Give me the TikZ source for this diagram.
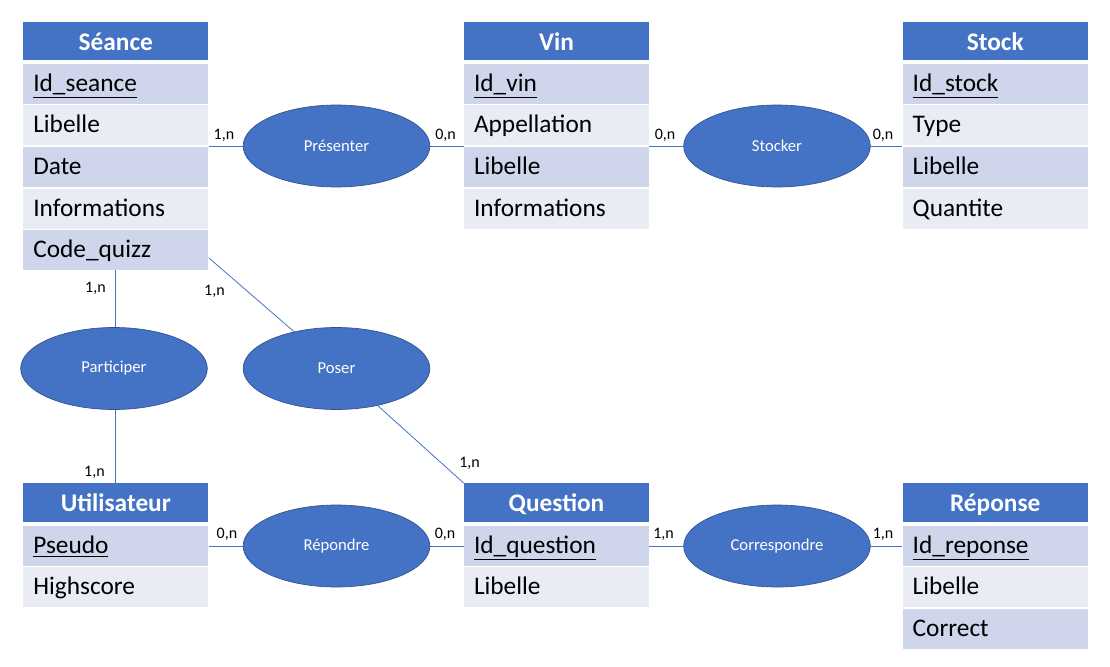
\documentclass[tikz,border=0pt]{standalone}
\usepackage{fontspec}
\setmainfont{Carlito}
\usepackage{tikz}
\usetikzlibrary{shapes.geometric}
\usepackage{xcolor}
\definecolor{entete}{HTML}{4472C4}
\definecolor{lignea}{HTML}{CFD5EA}
\definecolor{ligneb}{HTML}{E9EBF5}
\definecolor{bord}{HTML}{2F528F}

\begin{document}
\begin{tikzpicture}[x=0.75pt, y=-0.75pt,
  entete/.style={fill=entete, text=white, minimum width=138.75pt, minimum height=29pt, inner sep=0pt, text height=17.6pt, text depth=4pt, font=\fontsize{19}{22}\selectfont\bfseries},
  rowa/.style={fill=lignea, text width=123.75pt, align=left, inner xsep=7.5pt, inner ysep=0pt, minimum height=30pt, text height=15.6pt, text depth=4pt, font=\fontsize{19}{22}\selectfont},
  rowb/.style={rowa, fill=ligneb},
  assoc/.style={draw=bord, line width=0.5pt, fill=entete, text=white, ellipse, minimum width=140pt, minimum height=61.5pt, inner sep=0pt, font=\fontsize{12.5}{14}\selectfont},
  card/.style={inner sep=0pt, font=\fontsize{12}{14}\selectfont},
  lien/.style={draw=entete, line width=0.6pt}]
\useasboundingbox (0,0) rectangle (1110,667);

% Seance
\node[entete] (seance) at (115.8,41) {Séance};
\node[rowa] (seance-1) at (115.8,84) {\underline{Id\_seance}};
\node[rowb] (seance-2) at (115.8,125) {Libelle};
\node[rowa] (seance-3) at (115.8,167) {Date};
\node[rowb] (seance-4) at (115.8,208.5) {Informations};
\node[rowa] (seance-5) at (115.8,250) {Code\_quizz};

% Vin
\node[entete] (vin) at (556.5,41) {Vin};
\node[rowa] (vin-1) at (556.5,84) {\underline{Id\_vin}};
\node[rowb] (vin-2) at (556.5,125) {Appellation};
\node[rowa] (vin-3) at (556.5,167) {Libelle};
\node[rowb] (vin-4) at (556.5,208.5) {Informations};

% Stock
\node[entete] (stock) at (995.2,41) {Stock};
\node[rowa] (stock-1) at (995.2,84) {\underline{Id\_stock}};
\node[rowb] (stock-2) at (995.2,125) {Type};
\node[rowa] (stock-3) at (995.2,167) {Libelle};
\node[rowb] (stock-4) at (995.2,208.5) {Quantite};

% Utilisateur
\node[entete] (util) at (115.8,502.7) {Utilisateur};
\node[rowa] (util-1) at (115.8,546) {\underline{Pseudo}};
\node[rowb] (util-2) at (115.8,587) {Highscore};

% Question
\node[entete] (question) at (556.5,502.7) {Question};
\node[rowa] (question-1) at (556.5,546) {\underline{Id\_question}};
\node[rowb] (question-2) at (556.5,587) {Libelle};

% Reponse
\node[entete] (reponse) at (995.2,502.7) {Réponse};
\node[rowa] (reponse-1) at (995.2,546) {\underline{Id\_reponse}};
\node[rowb] (reponse-2) at (995.2,587) {Libelle};
\node[rowa] (reponse-3) at (995.2,628.5) {Correct};

% Associations
\node[assoc] (presenter) at (336.5,146) {Présenter};
\node[assoc] (stocker) at (777,146) {Stocker};
\node[assoc] (participer) at (114,368.5) {Participer};
\node[assoc] (poser) at (336.5,368.5) {Poser};
\node[assoc] (repondre) at (336.5,546) {Répondre};
\node[assoc] (correspondre) at (777,546) {Correspondre};

% Liens
\draw[lien] (presenter.west) -- (presenter.west -| seance.east);
\draw[lien] (presenter.east) -- (presenter.east -| vin.west);
\draw[lien] (stocker.west) -- (stocker.west -| vin.east);
\draw[lien] (stocker.east) -- (stocker.east -| stock.west);
\draw[lien] (seance-5.south) -- (seance-5.south |- participer.north);
\draw[lien] (util.north) -- (util.north |- participer.south);
\coordinate (coin) at (209,258);
\draw[lien] (coin) -- (poser);
\draw[lien] (poser) -- (question.north west);
\draw[lien] (repondre.west) -- (repondre.west -| util.east);
\draw[lien] (repondre.east) -- (repondre.east -| question.west);
\draw[lien] (correspondre.west) -- (correspondre.west -| question.east);
\draw[lien] (correspondre.east) -- (correspondre.east -| reponse.west);

% Cardinalites
\node[card] (c1) at (224,135) {1,n};
\node[card] (c2) at (445.5,135) {0,n};
\node[card] (c3) at (665,135) {0,n};
\node[card] (c4) at (883,135) {0,n};
\node[card] (c5) at (95.5,288) {1,n};
\node[card] (c6) at (214.5,291) {1,n};
\node[card] (c7) at (94.5,472) {1,n};
\node[card] (c8) at (469.5,463) {1,n};
\node[card] (c9) at (227,534) {0,n};
\node[card] (c10) at (445,534) {0,n};
\node[card] (c11) at (663.5,534) {1,n};
\node[card] (c12) at (883,534) {1,n};
\end{tikzpicture}
\end{document}
